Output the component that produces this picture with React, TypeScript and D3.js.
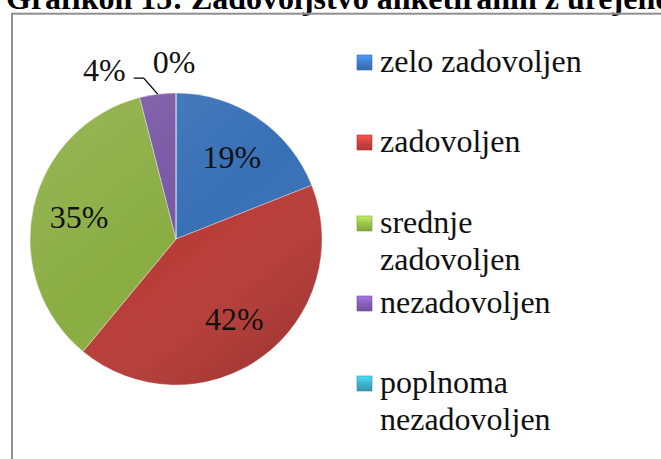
import React from "react";
import * as d3 from "d3";

const categories = ["zelo zadovoljen", "zadovoljen", "srednje zadovoljen", "nezadovoljen", "poplnoma nezadovoljen"];
const legendLines = [["zelo zadovoljen"], ["zadovoljen"], ["srednje", "zadovoljen"], ["nezadovoljen"], ["poplnoma", "nezadovoljen"]];
const values = [19, 42, 35, 4, 0];
const labels = ["19%", "42%", "35%", "4%", "0%"];
const colors = ["#3f7fce", "#d0433e", "#9cc44b", "#8861ba", "#3fb3cc"];
const title = "Grafikon 15: Zadovoljstvo anketiranih z urejenostjo";

const W = 661;
const H = 459;
const FONT = "'Liberation Serif', 'Times New Roman', serif";
const tstyle = { fontFamily: FONT };

export default function App() {
  const cx = 176;
  const cy = 239;
  const r = 146;
  const pie = d3.pie<number>().sort(null).value((d) => d).startAngle(0).endAngle(2 * Math.PI);
  const arcs = pie(values);
  const arc = d3.arc<d3.PieArcDatum<number>>().innerRadius(0).outerRadius(r);
  const labelArc = d3.arc<d3.PieArcDatum<number>>().innerRadius(r * 0.68).outerRadius(r * 0.68);

  const legendX = 357;
  const legendBaselines = [72, 152, 233, 313, 393];
  const lineH = 37;

  return (
    <svg width={W} height={H} style={{ position: "absolute", left: 0, top: 0, background: "#fff" }}>
      <defs>
        {colors.map((c, i) => {
          const base = d3.color(c)!;
          return (
            <radialGradient key={i} id={`rg${i}`} gradientUnits="userSpaceOnUse" cx={cx} cy={cy} r={r}>
              <stop offset="0" stopColor={base.darker(0.2).toString()} />
              <stop offset="0.8" stopColor={base.toString()} />
              <stop offset="0.93" stopColor={base.brighter(0.35).toString()} />
              <stop offset="1" stopColor={base.darker(0.35).toString()} />
            </radialGradient>
          );
        })}
        <linearGradient id="shade" gradientUnits="userSpaceOnUse" x1={cx - r} y1={cy - r} x2={cx + r * 0.6} y2={cy + r}>
          <stop offset="0" stopColor="#ffffff" stopOpacity={0.12} />
          <stop offset="0.55" stopColor="#ffffff" stopOpacity={0} />
          <stop offset="1" stopColor="#000000" stopOpacity={0.14} />
        </linearGradient>
        {colors.map((c, i) => {
          const base = d3.color(c)!;
          return (
            <linearGradient key={i} id={`lg${i}`} x1="0" y1="0" x2="0" y2="1">
              <stop offset="0" stopColor={base.brighter(0.6).toString()} />
              <stop offset="0.5" stopColor={base.toString()} />
              <stop offset="1" stopColor={base.darker(0.5).toString()} />
            </linearGradient>
          );
        })}
      </defs>

      <text x={6} y={8.5} fontSize={32} fontWeight="bold" fill="#000" style={tstyle}>
        {title}
      </text>
      <rect x={12} y={13.7} width={W + 20} height={H} fill="none" stroke="#8f8f8f" strokeWidth={2} />

      <g transform={`translate(${cx},${cy})`}>
        {arcs.map((a, i) => (
          <path key={i} d={arc(a) || ""} fill={`url(#rg${i})`} stroke="rgba(255,255,255,0.35)" strokeWidth={1} />
        ))}
        <g transform={`translate(${-cx},${-cy})`}>
          <circle cx={cx} cy={cy} r={r} fill="url(#shade)" />
        </g>
        {arcs.slice(0, 3).map((a, i) => {
          const [x, y] = labelArc.centroid(a);
          return (
            <text key={i} x={x} y={y + 11} textAnchor="middle" fontSize={32} fill="#111" style={tstyle}>
              {labels[i]}
            </text>
          );
        })}
      </g>

      {(() => {
        const a = arcs[3];
        const mid = (a.startAngle + a.endAngle) / 2;
        const px = cx + r * Math.sin(mid);
        const py = cy - r * Math.cos(mid);
        return (
          <g>
            <polyline points={`${px},${py} ${px - 14},${py - 16} ${px - 24},${py - 16}`} fill="none" stroke="#000" strokeWidth={1.3} />
            <text x={px - 32} y={py - 13} textAnchor="end" fontSize={32} fill="#111" style={tstyle}>
              {labels[3]}
            </text>
          </g>
        );
      })()}
      {(() => {
        const a = arcs[4];
        const mid = (a.startAngle + a.endAngle) / 2;
        const px = cx + (r + 30) * Math.sin(mid);
        const py = cy - (r + 30) * Math.cos(mid);
        return (
          <text x={px - 2} y={py + 10} textAnchor="middle" fontSize={32} fill="#111" style={tstyle}>
            {labels[4]}
          </text>
        );
      })()}

      {categories.map((c, i) => (
        <g key={c}>
          <rect x={legendX} y={legendBaselines[i] - 17} width={15} height={15} fill={`url(#lg${i})`} stroke={d3.color(colors[i])!.darker(0.6).toString()} strokeWidth={0.6} />
          <text x={380} y={legendBaselines[i]} fontSize={32} fill="#111" style={tstyle}>
            {legendLines[i].map((ln, j) => (
              <tspan key={j} x={380} y={legendBaselines[i] + j * lineH}>
                {ln}
              </tspan>
            ))}
          </text>
        </g>
      ))}
    </svg>
  );
}
